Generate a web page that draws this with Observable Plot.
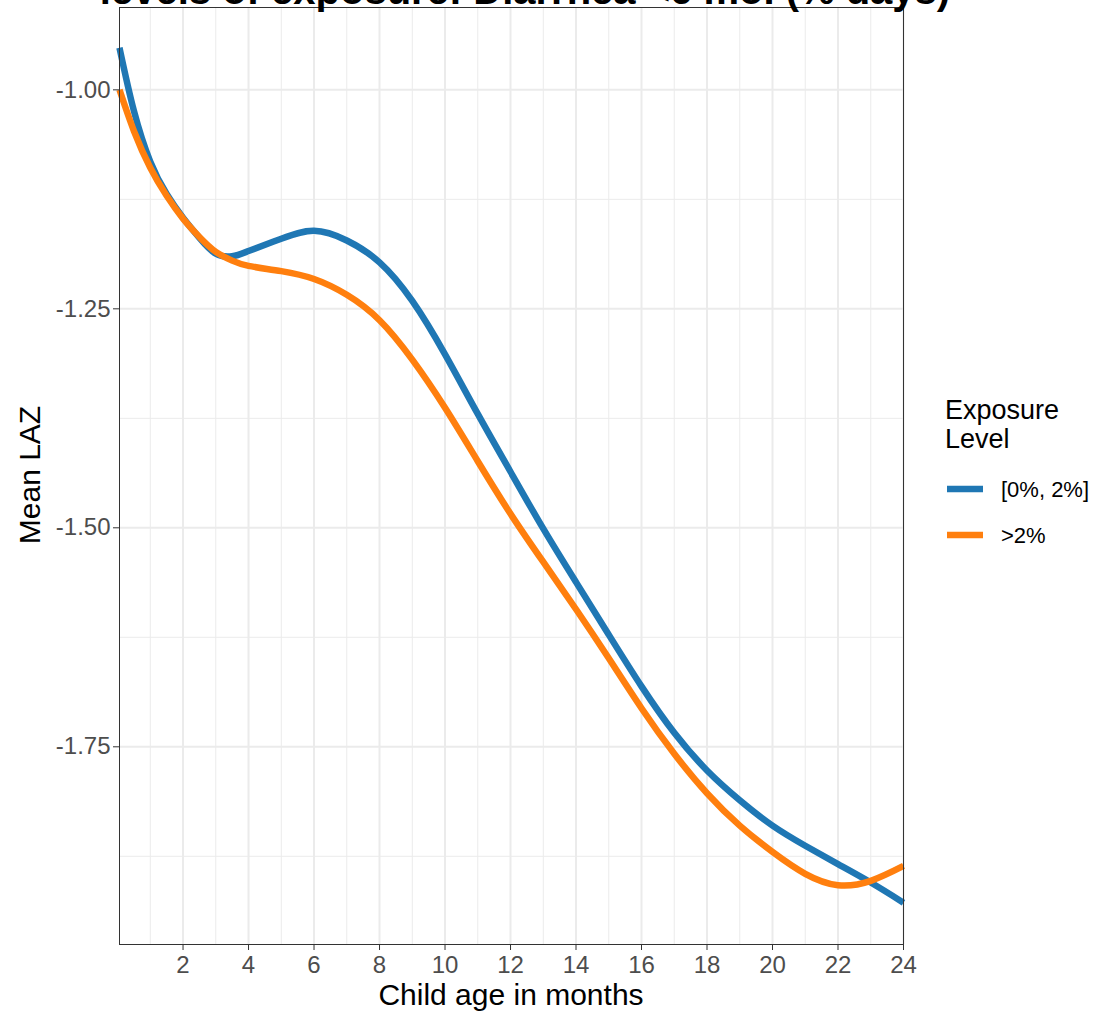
<!DOCTYPE html>
<html>
<head>
<meta charset="utf-8">
<script src="https://cdn.jsdelivr.net/npm/d3@7"></script>
<script src="https://cdn.jsdelivr.net/npm/@observablehq/plot@0.6"></script>
<style>
  html, body { margin: 0; padding: 0; background: #ffffff; }
  #wrap { position: relative; width: 1097px; height: 1017px; overflow: hidden; font-family: "Liberation Sans", Arial, sans-serif; }
  #wrap > svg { position: absolute; left: 0; top: 0; }
  #overlay { pointer-events: none; overflow: visible; }
</style>
</head>
<body>
<div id="wrap"></div>
<script>
// ---- data ----
const titleText = "levels of exposure: Diarrhea <6 mo. (% days)";
const xTitle = "Child age in months";
const yTitle = "Mean LAZ";
const legendTitle = ["Exposure", "Level"];
const levels = ["[0%, 2%]", ">2%"];
const levelColors = ["#1F77B4", "#FF7F0E"];

const ages = [0.06, 0.5, 1, 1.5, 2, 2.5, 3, 3.5, 4, 5, 6, 7, 8, 9, 10, 11, 12, 13, 14, 15, 16, 17, 18, 19, 20, 21, 22, 23, 24];
const lazLow = [-0.952, -1.024, -1.082, -1.119, -1.146, -1.169, -1.187, -1.190, -1.184, -1.170, -1.161, -1.172, -1.197, -1.241, -1.302, -1.370, -1.436, -1.501, -1.562, -1.622, -1.681, -1.734, -1.777, -1.811, -1.840, -1.863, -1.884, -1.905, -1.928];
const lazHigh = [-1.000, -1.047, -1.089, -1.121, -1.147, -1.168, -1.185, -1.195, -1.201, -1.207, -1.216, -1.234, -1.263, -1.308, -1.363, -1.424, -1.484, -1.539, -1.593, -1.649, -1.706, -1.758, -1.803, -1.840, -1.870, -1.895, -1.908, -1.903, -1.886];

const xMajor = [2, 4, 6, 8, 10, 12, 14, 16, 18, 20, 22, 24];
const xMinor = [1, 3, 5, 7, 9, 11, 13, 15, 17, 19, 21, 23];
const yMajor = [-1.75, -1.5, -1.25, -1.0];
const yMinor = [-1.875, -1.625, -1.375, -1.125];

// ---- build table ----
const rows = [
  ...ages.map((a, i) => ({age: a, laz: lazLow[i], level: levels[0]})),
  ...ages.map((a, i) => ({age: a, laz: lazHigh[i], level: levels[1]}))
];

const FONT = "Liberation Sans, Arial, Helvetica, sans-serif";
const W = 920, H = 1017;
const grid = "#EBEBEB";

const chart = Plot.plot({
  width: W,
  height: H,
  marginLeft: 119,
  marginRight: W - 903,
  marginTop: 7,
  marginBottom: H - 944,
  style: {fontFamily: FONT, background: "transparent", overflow: "visible"},
  x: {domain: [0.06, 24]},
  y: {domain: [-1.9757, -0.906]},
  color: {domain: levels, range: levelColors},
  marks: [
    Plot.ruleX(xMinor, {stroke: grid, strokeWidth: 1}),
    Plot.ruleY(yMinor, {stroke: grid, strokeWidth: 1}),
    Plot.ruleX(xMajor, {stroke: grid, strokeWidth: 2}),
    Plot.ruleY(yMajor, {stroke: grid, strokeWidth: 2}),
    Plot.line(rows, {x: "age", y: "laz", z: "level", stroke: "level", strokeWidth: 6.5, curve: "natural", strokeLinecap: "butt"}),
    Plot.frame({stroke: "#333333", strokeWidth: 1}),
    Plot.axisX(xMajor, {tickSize: 6, tickPadding: 5, fontSize: 24, stroke: "#333333", fill: "#4D4D4D", label: null}),
    Plot.axisY(yMajor, {tickSize: 6, tickPadding: 3, fontSize: 24, stroke: "#333333", fill: "#4D4D4D", label: null, tickFormat: d => d.toFixed(2)})
  ]
});

const wrap = document.getElementById("wrap");
wrap.appendChild(chart);

// ---- overlay: title, axis titles, legend ----
const color = chart.scale("color");
const ov = d3.select(wrap).append("svg")
  .attr("id", "overlay")
  .attr("width", 1097).attr("height", 1017)
  .style("font-family", FONT);

ov.append("text")
  .attr("x", 525).attr("y", 4)
  .attr("text-anchor", "middle")
  .attr("font-size", 40).attr("font-weight", "bold")
  .attr("fill", "#000")
  .text(titleText);

ov.append("text")
  .attr("x", 511).attr("y", 1005)
  .attr("text-anchor", "middle")
  .attr("font-size", 30).attr("fill", "#000")
  .text(xTitle);

ov.append("text")
  .attr("transform", "translate(40,475) rotate(-90)")
  .attr("text-anchor", "middle")
  .attr("font-size", 30).attr("fill", "#000")
  .text(yTitle);

legendTitle.forEach((t, i) => {
  ov.append("text")
    .attr("x", 945).attr("y", 419 + i * 29)
    .attr("font-size", 27).attr("fill", "#000")
    .text(t);
});

const keyY = [489, 535];
levels.forEach((lv, i) => {
  ov.append("line")
    .attr("x1", 947).attr("x2", 983)
    .attr("y1", keyY[i]).attr("y2", keyY[i])
    .attr("stroke", color.apply(lv)).attr("stroke-width", 6.5);
  ov.append("text")
    .attr("x", 1001).attr("y", keyY[i] + 8)
    .attr("font-size", 22).attr("fill", "#000")
    .text(lv);
});
</script>
</body>
</html>
